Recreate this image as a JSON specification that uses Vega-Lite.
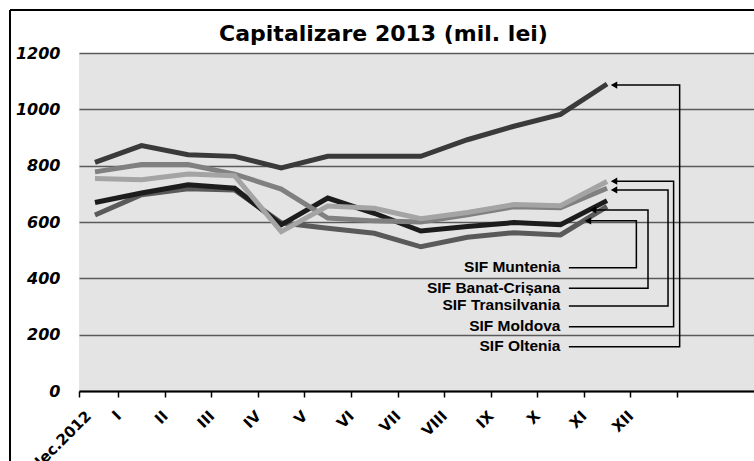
{
  "$schema": "https://vega.github.io/schema/vega-lite/v6.json",
  "width": 675,
  "height": 338,
  "autosize": {"type": "none"},
  "padding": {"left": 79, "top": 53, "right": 0, "bottom": 70},
  "background": "white",
  "config": {"view": {"fill": "#e4e4e4", "stroke": null}},
  "title": {"text": "Capitalizare 2013 (mil. lei)", "font": "DejaVu Sans", "fontSize": 22, "fontWeight": "bold", "color": "black", "anchor": "middle", "baseline": "alphabetic", "offset": -53.5, "dx": -33},
  "datasets": {
    "series": [
      {"sif": "SIF Oltenia", "luna": "dec.2012", "m": 0, "v": 812},
      {"sif": "SIF Oltenia", "luna": "I", "m": 1, "v": 871},
      {"sif": "SIF Oltenia", "luna": "II", "m": 2, "v": 839},
      {"sif": "SIF Oltenia", "luna": "III", "m": 3, "v": 833},
      {"sif": "SIF Oltenia", "luna": "IV", "m": 4, "v": 792},
      {"sif": "SIF Oltenia", "luna": "V", "m": 5, "v": 833},
      {"sif": "SIF Oltenia", "luna": "VI", "m": 6, "v": 833},
      {"sif": "SIF Oltenia", "luna": "VII", "m": 7, "v": 833},
      {"sif": "SIF Oltenia", "luna": "VIII", "m": 8, "v": 892},
      {"sif": "SIF Oltenia", "luna": "IX", "m": 9, "v": 940},
      {"sif": "SIF Oltenia", "luna": "X", "m": 10, "v": 982},
      {"sif": "SIF Oltenia", "luna": "XI", "m": 11, "v": 1090},
      {"sif": "SIF Muntenia", "luna": "dec.2012", "m": 0, "v": 625},
      {"sif": "SIF Muntenia", "luna": "I", "m": 1, "v": 697},
      {"sif": "SIF Muntenia", "luna": "II", "m": 2, "v": 718},
      {"sif": "SIF Muntenia", "luna": "III", "m": 3, "v": 714},
      {"sif": "SIF Muntenia", "luna": "IV", "m": 4, "v": 597},
      {"sif": "SIF Muntenia", "luna": "V", "m": 5, "v": 578},
      {"sif": "SIF Muntenia", "luna": "VI", "m": 6, "v": 560},
      {"sif": "SIF Muntenia", "luna": "VII", "m": 7, "v": 512},
      {"sif": "SIF Muntenia", "luna": "VIII", "m": 8, "v": 546},
      {"sif": "SIF Muntenia", "luna": "IX", "m": 9, "v": 562},
      {"sif": "SIF Muntenia", "luna": "X", "m": 10, "v": 554},
      {"sif": "SIF Muntenia", "luna": "XI", "m": 11, "v": 655},
      {"sif": "SIF Banat-Crișana", "luna": "dec.2012", "m": 0, "v": 669},
      {"sif": "SIF Banat-Crișana", "luna": "I", "m": 1, "v": 703},
      {"sif": "SIF Banat-Crișana", "luna": "II", "m": 2, "v": 732},
      {"sif": "SIF Banat-Crișana", "luna": "III", "m": 3, "v": 720},
      {"sif": "SIF Banat-Crișana", "luna": "IV", "m": 4, "v": 590},
      {"sif": "SIF Banat-Crișana", "luna": "V", "m": 5, "v": 685},
      {"sif": "SIF Banat-Crișana", "luna": "VI", "m": 6, "v": 631},
      {"sif": "SIF Banat-Crișana", "luna": "VII", "m": 7, "v": 568},
      {"sif": "SIF Banat-Crișana", "luna": "VIII", "m": 8, "v": 584},
      {"sif": "SIF Banat-Crișana", "luna": "IX", "m": 9, "v": 598},
      {"sif": "SIF Banat-Crișana", "luna": "X", "m": 10, "v": 590},
      {"sif": "SIF Banat-Crișana", "luna": "XI", "m": 11, "v": 676},
      {"sif": "SIF Transilvania", "luna": "dec.2012", "m": 0, "v": 778},
      {"sif": "SIF Transilvania", "luna": "I", "m": 1, "v": 804},
      {"sif": "SIF Transilvania", "luna": "II", "m": 2, "v": 804},
      {"sif": "SIF Transilvania", "luna": "III", "m": 3, "v": 770},
      {"sif": "SIF Transilvania", "luna": "IV", "m": 4, "v": 717},
      {"sif": "SIF Transilvania", "luna": "V", "m": 5, "v": 614},
      {"sif": "SIF Transilvania", "luna": "VI", "m": 6, "v": 604},
      {"sif": "SIF Transilvania", "luna": "VII", "m": 7, "v": 600},
      {"sif": "SIF Transilvania", "luna": "VIII", "m": 8, "v": 626},
      {"sif": "SIF Transilvania", "luna": "IX", "m": 9, "v": 654},
      {"sif": "SIF Transilvania", "luna": "X", "m": 10, "v": 651},
      {"sif": "SIF Transilvania", "luna": "XI", "m": 11, "v": 720},
      {"sif": "SIF Moldova", "luna": "dec.2012", "m": 0, "v": 754},
      {"sif": "SIF Moldova", "luna": "I", "m": 1, "v": 750},
      {"sif": "SIF Moldova", "luna": "II", "m": 2, "v": 770},
      {"sif": "SIF Moldova", "luna": "III", "m": 3, "v": 764},
      {"sif": "SIF Moldova", "luna": "IV", "m": 4, "v": 566},
      {"sif": "SIF Moldova", "luna": "V", "m": 5, "v": 657},
      {"sif": "SIF Moldova", "luna": "VI", "m": 6, "v": 649},
      {"sif": "SIF Moldova", "luna": "VII", "m": 7, "v": 612},
      {"sif": "SIF Moldova", "luna": "VIII", "m": 8, "v": 634},
      {"sif": "SIF Moldova", "luna": "IX", "m": 9, "v": 662},
      {"sif": "SIF Moldova", "luna": "X", "m": 10, "v": 658},
      {"sif": "SIF Moldova", "luna": "XI", "m": 11, "v": 744}
    ],
    "frame": [
      {"m": -1.826, "m2": 14.4, "v": 1352.6, "v2": 1352.6},
      {"m": -1.826, "m2": -1.826, "v": -260, "v2": 1352.6}
    ],
    "conn": [
      {"sif": "SIF Oltenia", "ord": 1, "m": 10.18, "v": 157},
      {"sif": "SIF Oltenia", "ord": 2, "m": 12.56, "v": 157},
      {"sif": "SIF Oltenia", "ord": 3, "m": 12.56, "v": 1086},
      {"sif": "SIF Oltenia", "ord": 4, "m": 11.15, "v": 1086},
      {"sif": "SIF Moldova", "ord": 1, "m": 10.18, "v": 228},
      {"sif": "SIF Moldova", "ord": 2, "m": 12.43, "v": 228},
      {"sif": "SIF Moldova", "ord": 3, "m": 12.43, "v": 745},
      {"sif": "SIF Moldova", "ord": 4, "m": 11.15, "v": 745},
      {"sif": "SIF Transilvania", "ord": 1, "m": 10.18, "v": 302},
      {"sif": "SIF Transilvania", "ord": 2, "m": 12.31, "v": 302},
      {"sif": "SIF Transilvania", "ord": 3, "m": 12.31, "v": 714},
      {"sif": "SIF Transilvania", "ord": 4, "m": 11.15, "v": 714},
      {"sif": "SIF Banat-Crișana", "ord": 1, "m": 10.18, "v": 365},
      {"sif": "SIF Banat-Crișana", "ord": 2, "m": 11.88, "v": 365},
      {"sif": "SIF Banat-Crișana", "ord": 3, "m": 11.88, "v": 643},
      {"sif": "SIF Banat-Crișana", "ord": 4, "m": 10.70, "v": 643},
      {"sif": "SIF Muntenia", "ord": 1, "m": 10.18, "v": 438},
      {"sif": "SIF Muntenia", "ord": 2, "m": 11.63, "v": 438},
      {"sif": "SIF Muntenia", "ord": 3, "m": 11.63, "v": 604},
      {"sif": "SIF Muntenia", "ord": 4, "m": 10.59, "v": 604}
    ],
    "arrows": [
      {"sif": "SIF Oltenia", "m": 11.15, "v": 1086},
      {"sif": "SIF Moldova", "m": 11.15, "v": 745},
      {"sif": "SIF Transilvania", "m": 11.15, "v": 714},
      {"sif": "SIF Banat-Crișana", "m": 10.70, "v": 643},
      {"sif": "SIF Muntenia", "m": 10.59, "v": 604}
    ],
    "labels": [
      {"sif": "SIF Muntenia", "m": 10.0, "v": 440},
      {"sif": "SIF Banat-Crișana", "m": 10.0, "v": 367},
      {"sif": "SIF Transilvania", "m": 10.0, "v": 304},
      {"sif": "SIF Moldova", "m": 10.0, "v": 231},
      {"sif": "SIF Oltenia", "m": 10.0, "v": 160}
    ]
  },
  "layer": [
    {
      "data": {"name": "frame"},
      "mark": {"type": "rule", "color": "black", "strokeWidth": 2},
      "encoding": {
        "x": {"field": "m", "type": "quantitative", "title": null, "scale": {"domain": [-0.3437, 14.157], "nice": false, "zero": false}},
        "x2": {"field": "m2"},
        "y": {"field": "v", "type": "quantitative", "title": null, "scale": {"domain": [0, 1200], "nice": false, "zero": false}},
        "y2": {"field": "v2"}
      }
    },
    {
      "data": {"name": "series"},
      "mark": {"type": "line", "strokeWidth": 5},
      "encoding": {
        "x": {"field": "m", "type": "quantitative", "title": null,
          "scale": {"domain": [-0.3437, 14.157], "nice": false, "zero": false},
          "axis": {
            "values": [-0.3437, 0.5, 1.5, 2.5, 3.5, 4.5, 5.5, 6.5, 7.5, 8.5, 9.5, 10.5, 11.5, 12.5],
            "labelExpr": "datum.value < 0 ? 'dec.2012' : ['I','II','III','IV','V','VI','VII','VIII','IX','X','XI','XII','',''][floor(datum.value)]",
            "domainColor": "black", "domainWidth": 2,
            "tickColor": "black", "tickWidth": 1.5, "tickSize": 6,
            "grid": false,
            "labelAngle": -45, "labelAlign": "right", "labelBaseline": "middle", "labelPadding": 16,
            "labelOffset": {"condition": {"test": "datum.value < 0", "value": 9}, "value": 0},
            "labelFont": "DejaVu Sans", "labelFontWeight": "bold", "labelFontSize": 15, "labelColor": "black",
            "labelOverlap": false, "labelFlush": false, "labelBound": false, "title": null
          }
        },
        "y": {"field": "v", "type": "quantitative", "title": null,
          "scale": {"domain": [0, 1200], "nice": false, "zero": false},
          "axis": {
            "values": [0, 200, 400, 600, 800, 1000, 1200],
            "format": "d",
            "grid": true, "gridColor": "#5a5a5a", "gridWidth": 1.5,
            "domain": false, "ticks": false, "tickSize": 0, "labelPadding": 19,
            "labelFont": "DejaVu Sans", "labelFontStyle": "italic", "labelFontWeight": "bold", "labelFontSize": 16, "labelColor": "black",
            "title": null
          }
        },
        "color": {"field": "sif", "type": "nominal", "legend": null,
          "scale": {"domain": ["SIF Oltenia", "SIF Muntenia", "SIF Banat-Crișana", "SIF Transilvania", "SIF Moldova"],
                    "range": ["#3a3a3a", "#5a5a5a", "#1c1c1c", "#808080", "#a4a4a4"]}}
      }
    },
    {
      "data": {"name": "conn"},
      "mark": {"type": "line", "color": "black", "strokeWidth": 1.5},
      "encoding": {
        "x": {"field": "m", "type": "quantitative", "title": null, "scale": {"domain": [-0.3437, 14.157], "nice": false, "zero": false}},
        "y": {"field": "v", "type": "quantitative", "title": null, "scale": {"domain": [0, 1200], "nice": false, "zero": false}},
        "detail": {"field": "sif", "type": "nominal"},
        "order": {"field": "ord", "type": "quantitative"}
      }
    },
    {
      "data": {"name": "arrows"},
      "mark": {"type": "point", "shape": "triangle-left", "filled": true, "color": "black", "size": 55, "opacity": 1},
      "encoding": {
        "x": {"field": "m", "type": "quantitative", "title": null, "scale": {"domain": [-0.3437, 14.157], "nice": false, "zero": false}},
        "y": {"field": "v", "type": "quantitative", "title": null, "scale": {"domain": [0, 1200], "nice": false, "zero": false}}
      }
    },
    {
      "data": {"name": "labels"},
      "mark": {"type": "text", "align": "right", "baseline": "middle", "font": "Liberation Sans", "fontWeight": "bold", "fontSize": 15.5, "color": "black"},
      "encoding": {
        "x": {"field": "m", "type": "quantitative", "title": null, "scale": {"domain": [-0.3437, 14.157], "nice": false, "zero": false}},
        "y": {"field": "v", "type": "quantitative", "title": null, "scale": {"domain": [0, 1200], "nice": false, "zero": false}},
        "text": {"field": "sif", "type": "nominal"}
      }
    }
  ]
}
